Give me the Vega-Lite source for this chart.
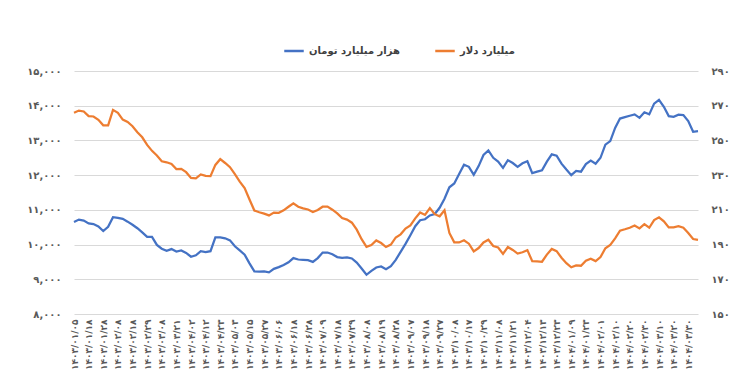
{
  "$schema": "https://vega.github.io/schema/vega-lite/v6.json",
  "width": 624,
  "height": 243,
  "autosize": "none",
  "padding": {"left": 74, "top": 71, "right": 52, "bottom": 61},
  "background": "white",
  "config": {
    "font": "DejaVu Sans",
    "view": {"stroke": null},
    "axis": {"labelColor": "#595959", "labelFontWeight": "bold", "domain": false, "ticks": false}
  },
  "data": {"values": [
    {"d": "1403/01/05", "t": 10650, "u": 265.9},
    {"d": "1403/01/09", "t": 10720, "u": 267.2},
    {"d": "1403/01/14", "t": 10690, "u": 266.7},
    {"d": "1403/01/18", "t": 10610, "u": 264.0},
    {"d": "1403/01/21", "t": 10590, "u": 263.8},
    {"d": "1403/01/25", "t": 10520, "u": 261.9},
    {"d": "1403/01/28", "t": 10390, "u": 258.7},
    {"d": "1403/01/31", "t": 10510, "u": 258.7},
    {"d": "1403/02/04", "t": 10790, "u": 267.6},
    {"d": "1403/02/08", "t": 10770, "u": 265.9},
    {"d": "1403/02/11", "t": 10740, "u": 262.0},
    {"d": "1403/02/15", "t": 10660, "u": 260.7},
    {"d": "1403/02/18", "t": 10570, "u": 258.2},
    {"d": "1403/02/22", "t": 10470, "u": 254.7},
    {"d": "1403/02/25", "t": 10350, "u": 251.8},
    {"d": "1403/02/29", "t": 10220, "u": 247.4},
    {"d": "1403/03/01", "t": 10220, "u": 244.0},
    {"d": "1403/03/05", "t": 9990, "u": 241.3},
    {"d": "1403/03/08", "t": 9880, "u": 238.0},
    {"d": "1403/03/12", "t": 9820, "u": 237.4},
    {"d": "1403/03/17", "t": 9870, "u": 236.4},
    {"d": "1403/03/21", "t": 9800, "u": 233.5},
    {"d": "1403/03/25", "t": 9830, "u": 233.6},
    {"d": "1403/03/29", "t": 9760, "u": 231.7},
    {"d": "1403/04/02", "t": 9650, "u": 228.4},
    {"d": "1403/04/05", "t": 9690, "u": 228.2},
    {"d": "1403/04/09", "t": 9810, "u": 230.4},
    {"d": "1403/04/12", "t": 9780, "u": 229.6},
    {"d": "1403/04/16", "t": 9810, "u": 229.4},
    {"d": "1403/04/19", "t": 10210, "u": 235.9},
    {"d": "1403/04/23", "t": 10210, "u": 239.2},
    {"d": "1403/04/26", "t": 10180, "u": 237.0},
    {"d": "1403/04/30", "t": 10120, "u": 234.6},
    {"d": "1403/05/03", "t": 9950, "u": 230.6},
    {"d": "1403/05/07", "t": 9830, "u": 226.3},
    {"d": "1403/05/10", "t": 9710, "u": 222.5},
    {"d": "1403/05/15", "t": 9460, "u": 216.0},
    {"d": "1403/05/20", "t": 9230, "u": 209.6},
    {"d": "1403/05/23", "t": 9220, "u": 208.6},
    {"d": "1403/05/27", "t": 9230, "u": 207.8},
    {"d": "1403/05/30", "t": 9200, "u": 206.8},
    {"d": "1403/06/03", "t": 9300, "u": 208.4},
    {"d": "1403/06/06", "t": 9350, "u": 208.3},
    {"d": "1403/06/10", "t": 9410, "u": 209.7},
    {"d": "1403/06/14", "t": 9490, "u": 211.8},
    {"d": "1403/06/18", "t": 9610, "u": 213.8},
    {"d": "1403/06/21", "t": 9570, "u": 211.8},
    {"d": "1403/06/25", "t": 9560, "u": 210.9},
    {"d": "1403/06/28", "t": 9550, "u": 210.2},
    {"d": "1403/07/01", "t": 9500, "u": 208.8},
    {"d": "1403/07/04", "t": 9610, "u": 209.9},
    {"d": "1403/07/09", "t": 9770, "u": 211.8},
    {"d": "1403/07/11", "t": 9770, "u": 211.9},
    {"d": "1403/07/15", "t": 9720, "u": 210.1},
    {"d": "1403/07/18", "t": 9640, "u": 208.0},
    {"d": "1403/07/22", "t": 9620, "u": 205.3},
    {"d": "1403/07/25", "t": 9630, "u": 204.4},
    {"d": "1403/07/29", "t": 9600, "u": 202.6},
    {"d": "1403/08/01", "t": 9480, "u": 198.6},
    {"d": "1403/08/05", "t": 9310, "u": 193.1},
    {"d": "1403/08/08", "t": 9130, "u": 188.7},
    {"d": "1403/08/12", "t": 9240, "u": 189.7},
    {"d": "1403/08/15", "t": 9340, "u": 192.4},
    {"d": "1403/08/19", "t": 9370, "u": 190.9},
    {"d": "1403/08/22", "t": 9290, "u": 188.6},
    {"d": "1403/08/26", "t": 9380, "u": 190.0},
    {"d": "1403/08/28", "t": 9560, "u": 194.1},
    {"d": "1403/09/01", "t": 9790, "u": 195.9},
    {"d": "1403/09/04", "t": 10020, "u": 199.2},
    {"d": "1403/09/07", "t": 10270, "u": 201.0},
    {"d": "1403/09/11", "t": 10530, "u": 205.1},
    {"d": "1403/09/14", "t": 10700, "u": 208.5},
    {"d": "1403/09/18", "t": 10730, "u": 207.1},
    {"d": "1403/09/21", "t": 10840, "u": 211.0},
    {"d": "1403/09/24", "t": 10880, "u": 207.5},
    {"d": "1403/09/27", "t": 11060, "u": 206.3},
    {"d": "1403/10/01", "t": 11320, "u": 209.8},
    {"d": "1403/10/04", "t": 11650, "u": 196.7},
    {"d": "1403/10/08", "t": 11760, "u": 191.3},
    {"d": "1403/10/11", "t": 12030, "u": 191.2},
    {"d": "1403/10/14", "t": 12300, "u": 192.5},
    {"d": "1403/10/17", "t": 12240, "u": 190.5},
    {"d": "1403/10/21", "t": 12010, "u": 186.1},
    {"d": "1403/10/25", "t": 12260, "u": 188.0},
    {"d": "1403/10/29", "t": 12580, "u": 191.2},
    {"d": "1403/11/02", "t": 12710, "u": 192.8},
    {"d": "1403/11/05", "t": 12500, "u": 189.2},
    {"d": "1403/11/08", "t": 12390, "u": 188.3},
    {"d": "1403/11/13", "t": 12210, "u": 184.6},
    {"d": "1403/11/17", "t": 12430, "u": 188.6},
    {"d": "1403/11/21", "t": 12350, "u": 186.9},
    {"d": "1403/11/25", "t": 12240, "u": 184.8},
    {"d": "1403/11/29", "t": 12340, "u": 185.6},
    {"d": "1403/12/04", "t": 12400, "u": 186.8},
    {"d": "1403/12/07", "t": 12060, "u": 180.4},
    {"d": "1403/12/11", "t": 12100, "u": 180.3},
    {"d": "1403/12/13", "t": 12140, "u": 180.1},
    {"d": "1403/12/16", "t": 12390, "u": 184.2},
    {"d": "1403/12/20", "t": 12600, "u": 187.5},
    {"d": "1403/12/23", "t": 12560, "u": 186.2},
    {"d": "1403/12/26", "t": 12330, "u": 182.4},
    {"d": "1404/01/06", "t": 12160, "u": 179.3},
    {"d": "1404/01/09", "t": 12000, "u": 176.9},
    {"d": "1404/01/15", "t": 12120, "u": 178.0},
    {"d": "1404/01/18", "t": 12100, "u": 177.8},
    {"d": "1404/01/23", "t": 12320, "u": 180.7},
    {"d": "1404/01/26", "t": 12420, "u": 181.9},
    {"d": "1404/01/29", "t": 12330, "u": 180.5},
    {"d": "1404/02/01", "t": 12500, "u": 182.8},
    {"d": "1404/02/04", "t": 12880, "u": 187.9},
    {"d": "1404/02/07", "t": 12980, "u": 189.8},
    {"d": "1404/02/10", "t": 13360, "u": 193.6},
    {"d": "1404/02/13", "t": 13630, "u": 198.0},
    {"d": "1404/02/16", "t": 13670, "u": 198.8},
    {"d": "1404/02/20", "t": 13710, "u": 199.7},
    {"d": "1404/02/23", "t": 13750, "u": 201.0},
    {"d": "1404/02/27", "t": 13650, "u": 199.3},
    {"d": "1404/02/30", "t": 13810, "u": 201.8},
    {"d": "1404/03/03", "t": 13750, "u": 199.7},
    {"d": "1404/03/06", "t": 14060, "u": 204.1},
    {"d": "1404/03/10", "t": 14170, "u": 205.7},
    {"d": "1404/03/13", "t": 13970, "u": 203.4},
    {"d": "1404/03/17", "t": 13700, "u": 199.9},
    {"d": "1404/03/20", "t": 13680, "u": 199.9},
    {"d": "1404/03/24", "t": 13740, "u": 200.6},
    {"d": "1404/03/27", "t": 13730, "u": 199.7},
    {"d": "1404/03/30", "t": 13560, "u": 196.7},
    {"d": "1404/04/02", "t": 13250, "u": 193.2},
    {"d": "1404/04/05", "t": 13270, "u": 192.7}
  ]},
  "encoding": {
    "x": {
      "field": "d",
      "type": "ordinal",
      "sort": null,
      "scale": {"type": "point", "padding": 0},
      "axis": {
        "title": null,
        "labelAngle": -90,
        "labelFontSize": 9,
        "labelPadding": 5,
        "labelOverlap": false,
        "grid": false,
        "values": ["1403/01/05", "1403/01/18", "1403/01/28", "1403/02/08", "1403/02/18", "1403/02/29", "1403/03/08", "1403/03/21", "1403/04/02", "1403/04/12", "1403/04/23", "1403/05/03", "1403/05/15", "1403/05/27", "1403/06/06", "1403/06/18", "1403/06/28", "1403/07/09", "1403/07/18", "1403/07/29", "1403/08/08", "1403/08/19", "1403/08/28", "1403/09/07", "1403/09/18", "1403/09/27", "1403/10/08", "1403/10/17", "1403/10/29", "1403/11/08", "1403/11/21", "1403/12/04", "1403/12/13", "1403/12/23", "1404/01/09", "1404/01/23", "1404/02/01", "1404/02/10", "1404/02/20", "1404/02/30", "1404/03/10", "1404/03/20", "1404/03/30"],
        "labelExpr": "replace(replace(replace(replace(replace(replace(replace(replace(replace(replace(datum.label,/0/g,'۰'),/1/g,'۱'),/2/g,'۲'),/3/g,'۳'),/4/g,'۴'),/5/g,'۵'),/6/g,'۶'),/7/g,'۷'),/8/g,'۸'),/9/g,'۹')"
      }
    }
  },
  "layer": [
    {
      "mark": {"type": "line", "strokeWidth": 2.25},
      "encoding": {
        "y": {
          "field": "t",
          "type": "quantitative",
          "scale": {"domain": [8000, 15000]},
          "axis": {
            "title": null,
            "orient": "left",
            "values": [8000, 9000, 10000, 11000, 12000, 13000, 14000, 15000],
            "format": ",d",
            "grid": true,
            "gridColor": "#d9d9d9",
            "gridWidth": 1,
            "labelFontSize": 10,
            "labelPadding": 13,
            "labelExpr": "replace(replace(replace(replace(replace(replace(replace(replace(replace(replace(datum.label,/0/g,'۰'),/1/g,'۱'),/2/g,'۲'),/3/g,'۳'),/4/g,'۴'),/5/g,'۵'),/6/g,'۶'),/7/g,'۷'),/8/g,'۸'),/9/g,'۹')"
          }
        },
        "color": {
          "datum": "هزار میلیارد تومان",
          "type": "nominal",
          "scale": {"domain": ["هزار میلیارد تومان", "میلیارد دلار"], "range": ["#4472C4", "#ED7D31"]},
          "legend": {
            "title": null,
            "orient": "none",
            "direction": "horizontal",
            "legendX": 209,
            "legendY": -31,
            "symbolType": "stroke",
            "symbolSize": 380,
            "symbolStrokeWidth": 2.5,
            "labelFontSize": 10,
            "labelFontWeight": "bold",
            "labelColor": "#404040",
            "columnPadding": 30,
            "labelOffset": 4
          }
        }
      }
    },
    {
      "mark": {"type": "line", "strokeWidth": 2.25},
      "encoding": {
        "y": {
          "field": "u",
          "type": "quantitative",
          "scale": {"domain": [150, 290]},
          "axis": {
            "title": null,
            "orient": "right",
            "values": [150, 170, 190, 210, 230, 250, 270, 290],
            "grid": false,
            "labelFontSize": 10,
            "labelPadding": 13,
            "labelExpr": "replace(replace(replace(replace(replace(replace(replace(replace(replace(replace(datum.label,/0/g,'۰'),/1/g,'۱'),/2/g,'۲'),/3/g,'۳'),/4/g,'۴'),/5/g,'۵'),/6/g,'۶'),/7/g,'۷'),/8/g,'۸'),/9/g,'۹')"
          }
        },
        "color": {"datum": "میلیارد دلار", "type": "nominal"}
      }
    }
  ],
  "resolve": {"scale": {"y": "independent"}}
}
